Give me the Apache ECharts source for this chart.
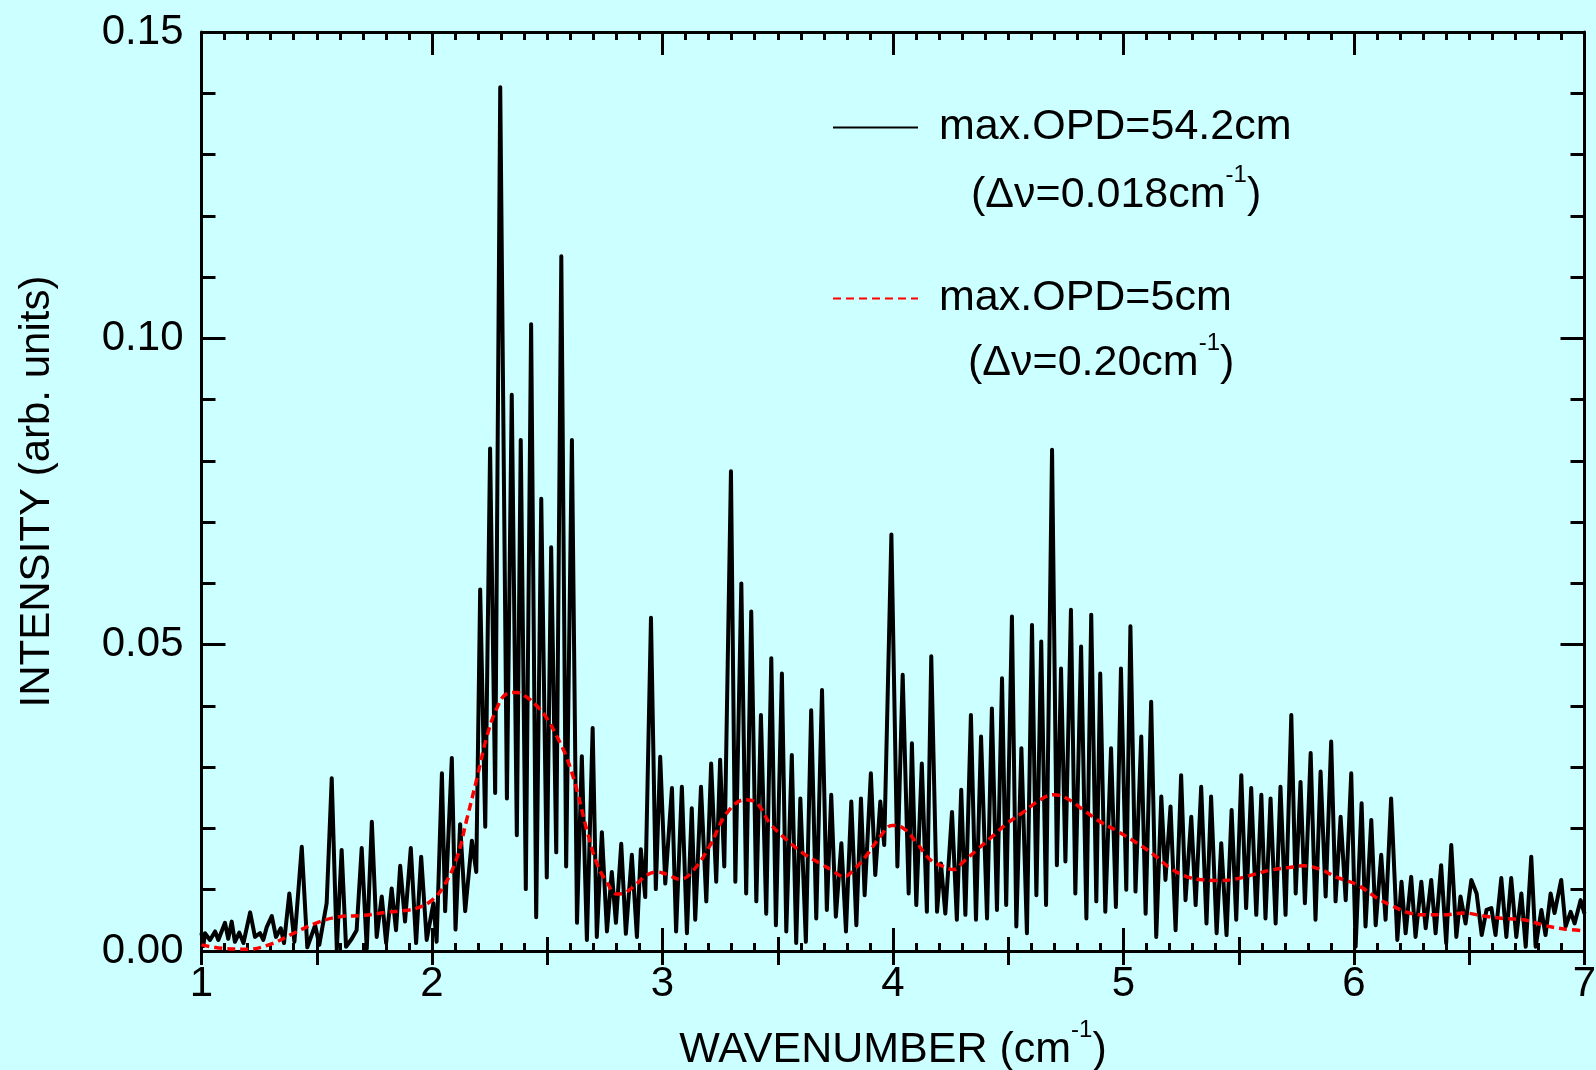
<!DOCTYPE html>
<html>
<head>
<meta charset="utf-8">
<script src="https://cdn.jsdelivr.net/npm/echarts@6/dist/echarts.min.js"></script>
<style>
html,body{margin:0;padding:0;background:#ccffff;}
#chart{width:1596px;height:1070px;}
</style>
</head>
<body>
<div id="chart"></div>
<script>
// ---- data ----
const hiResWavenumber = [
1.000,1.008,1.015,1.037,1.059,1.073,1.102,1.116,1.131,1.145,
1.164,1.182,1.211,1.232,1.254,1.268,1.283,1.305,1.323,1.344,
1.358,1.381,1.403,1.435,1.459,1.493,1.511,1.543,1.565,1.587,
1.608,1.627,1.652,1.673,1.695,1.717,1.739,1.760,1.782,1.801,
1.825,1.844,1.862,1.883,1.908,1.931,1.953,1.977,2.006,2.020,
2.043,2.057,2.086,2.102,2.122,2.144,2.173,2.192,2.209,2.231,
2.252,2.274,2.296,2.325,2.346,2.368,2.385,2.407,2.430,2.452,
2.474,2.498,2.517,2.539,2.561,2.582,2.607,2.629,2.650,2.672,
2.697,2.715,2.737,2.759,2.780,2.798,2.821,2.841,2.867,2.889,
2.906,2.925,2.950,2.971,2.990,3.012,3.041,3.059,3.084,3.106,
3.127,3.142,3.167,3.190,3.211,3.233,3.250,3.268,3.297,3.316,
3.342,3.363,3.385,3.407,3.427,3.450,3.472,3.492,3.518,3.537,
3.561,3.580,3.598,3.622,3.645,3.667,3.692,3.713,3.732,3.752,
3.776,3.796,3.819,3.841,3.861,3.877,3.904,3.923,3.945,3.962,
3.993,4.019,4.042,4.068,4.082,4.101,4.125,4.147,4.166,4.191,
4.208,4.227,4.256,4.277,4.296,4.314,4.338,4.360,4.382,4.408,
4.429,4.451,4.473,4.491,4.516,4.535,4.557,4.581,4.603,4.622,
4.643,4.664,4.690,4.711,4.729,4.748,4.772,4.791,4.816,4.839,
4.860,4.882,4.899,4.921,4.946,4.967,4.989,5.012,5.030,5.052,
5.077,5.096,5.120,5.142,5.164,5.182,5.204,5.226,5.250,5.269,
5.294,5.313,5.337,5.360,5.380,5.404,5.424,5.447,5.469,5.489,
5.511,5.532,5.554,5.576,5.598,5.616,5.638,5.660,5.681,5.703,
5.728,5.747,5.768,5.787,5.812,5.833,5.855,5.877,5.901,5.920,
5.942,5.964,5.988,6.007,6.033,6.050,6.075,6.094,6.118,6.137,
6.161,6.188,6.206,6.224,6.248,6.267,6.292,6.311,6.335,6.354,
6.378,6.400,6.422,6.444,6.462,6.484,6.509,6.532,6.554,6.575,
6.596,6.614,6.639,6.661,6.682,6.704,6.726,6.745,6.769,6.788,
6.813,6.831,6.853,6.870,6.899,6.918,6.940,6.957,6.983,7.000
];
const hiResIntensity = [
.0030,.0008,.0029,.0018,.0032,.0018,.0046,.0020,.0048,.0015,
.0030,.0013,.0063,.0023,.0029,.0018,.0039,.0057,.0023,.0037,
.0013,.0094,.0015,.0170,.0006,.0042,.0010,.0078,.0282,.0002,
.0165,.0007,.0020,.0034,.0168,.0004,.0211,.0023,.0089,.0013,
.0102,.0034,.0139,.0048,.0168,.0013,.0154,.0018,.0078,.0015,
.0290,.0065,.0315,.0035,.0207,.0065,.0180,.0129,.0590,.0203,
.0820,.0258,.1410,.0249,.0908,.0189,.0834,.0101,.1023,.0055,
.0738,.0120,.0659,.0161,.1134,.0138,.0834,.0046,.0318,.0018,
.0364,.0023,.0194,.0032,.0129,.0046,.0175,.0028,.0157,.0023,
.0166,.0088,.0544,.0101,.0317,.0110,.0266,.0032,.0268,.0029,
.0233,.0051,.0268,.0081,.0306,.0113,.0312,.0138,.0783,.0113,
.0600,.0094,.0554,.0081,.0385,.0061,.0478,.0042,.0453,.0032,
.0320,.0013,.0249,.0015,.0393,.0053,.0426,.0067,.0255,.0056,
.0176,.0032,.0244,.0042,.0249,.0091,.0290,.0124,.0244,.0173,
.0680,.0138,.0451,.0094,.0339,.0075,.0306,.0064,.0481,.0064,
.0143,.0061,.0227,.0051,.0263,.0059,.0385,.0051,.0350,.0053,
.0396,.0067,.0445,.0075,.0546,.0040,.0331,.0029,.0532,.0091,
.0505,.0075,.0818,.0140,.0461,.0146,.0557,.0094,.0497,.0053,
.0549,.0081,.0453,.0064,.0331,.0072,.0461,.0100,.0530,.0097,
.0350,.0061,.0407,.0023,.0252,.0116,.0236,.0034,.0287,.0083,
.0219,.0075,.0268,.0045,.0252,.0029,.0176,.0026,.0230,.0051,
.0287,.0070,.0266,.0059,.0255,.0053,.0249,.0045,.0268,.0059,
.0385,.0094,.0276,.0078,.0323,.0051,.0293,.0089,.0342,.0081,
.0219,.0083,.0290,.0007,.0241,.0040,.0214,.0042,.0157,.0051,
.0249,.0018,.0113,.0029,.0121,.0023,.0113,.0037,.0116,.0029,
.0140,.0013,.0173,.0023,.0089,.0045,.0116,.0094,.0026,.0067,
.0070,.0026,.0119,.0023,.0119,.0023,.0094,.0007,.0154,.0007,
.0067,.0026,.0094,.0062,.0116,.0040,.0064,.0045,.0083,.0061
];
const loResWavenumber = [
1.00,1.10,1.20,1.30,1.40,1.50,1.60,1.70,1.80,1.90,
1.95,2.00,2.05,2.108,2.151,2.195,2.238,2.281,2.325,2.368,
2.412,2.455,2.498,2.542,2.585,2.629,2.672,2.715,2.759,2.802,
2.846,2.889,2.932,2.976,3.019,3.077,3.135,3.207,3.279,3.359,
3.410,3.467,3.540,3.612,3.684,3.742,3.786,3.829,3.887,3.945,
3.996,4.046,4.104,4.162,4.219,4.263,4.306,4.364,4.422,4.494,
4.567,4.639,4.697,4.755,4.827,4.899,4.972,5.059,5.132,5.204,
5.276,5.349,5.421,5.493,5.566,5.638,5.710,5.783,5.855,5.927,
6.014,6.101,6.159,6.231,6.303,6.390,6.477,6.564,6.651,6.737,
6.824,6.911,7.000
];
const loResIntensity = [
.0010,.0004,.0003,.0011,.0029,.0046,.0056,.0058,.0063,.0067,
.0072,.0083,.0105,.0152,.0215,.0282,.0350,.0396,.0420,.0422,
.0414,.0400,.0380,.0350,.0315,.0262,.0197,.0143,.0112,.0093,
.0097,.0110,.0124,.0129,.0125,.0117,.0132,.0173,.0225,.0247,
.0241,.0208,.0181,.0159,.0143,.0130,.0121,.0132,.0157,.0187,
.0205,.0200,.0176,.0149,.0138,.0133,.0146,.0165,.0184,.0208,
.0227,.0247,.0255,.0249,.0230,.0211,.0196,.0176,.0157,.0135,
.0121,.0116,.0115,.0118,.0125,.0132,.0136,.0139,.0133,.0120,
.0108,.0086,.0075,.0063,.0059,.0059,.0062,.0057,.0053,.0051,
.0042,.0036,.0033
];
const seriesNames = ['max.OPD=54.2cm', 'max.OPD=5cm'];
const resolutionNotes = ['0.018', '0.20'];
const xRange = [1, 7];
const yRange = [0, 0.15];

// ---- chart ----
const FONT = 'Liberation Sans, Arial, sans-serif';
const BLACK = '#000000';
const chart = echarts.init(document.getElementById('chart'), null, {renderer: 'canvas'});

const hiResData = hiResWavenumber.map((x, i) => [x, hiResIntensity[i]]);
const loResData = loResWavenumber.map((x, i) => [x, loResIntensity[i]]);

function richText(size) {
  return {
    a: {fontSize: size, fontFamily: FONT, fontWeight: 'normal', color: BLACK},
    s: {fontSize: 24, fontFamily: FONT, fontWeight: 'normal', color: BLACK, padding: [0, 0, 40, 0]}
  };
}

function xAxisDef(position, interval, tickLen, opts) {
  return Object.assign({
    type: 'value', position: position, min: xRange[0], max: xRange[1], interval: interval,
    axisLine: {show: false, lineStyle: {color: BLACK, width: 3}},
    axisTick: {show: true, inside: true, length: tickLen, lineStyle: {color: BLACK, width: 3}},
    axisLabel: {show: false},
    splitLine: {show: false}
  }, opts || {});
}

const option = {
  animation: false,
  backgroundColor: '#ccffff',
  grid: {left: 201.5, top: 32, width: 1383, height: 919, outerBoundsMode: 'none', containLabel: false},
  title: resolutionNotes.map((r, i) => ({
    text: '{a|(\u0394\u03bd=' + r + 'cm}{s|-1}{a|)}',
    left: i === 0 ? 971 : 968,
    top: i === 0 ? 163 : 331,
    padding: 0,
    textStyle: {fontWeight: 'normal', fontSize: 43, fontFamily: FONT, color: BLACK, rich: richText(43)}
  })),
  legend: seriesNames.map((n, i) => ({
    data: [n],
    left: 832,
    top: i === 0 ? 106 : 277,
    padding: 0,
    itemWidth: 85,
    itemHeight: 14,
    selectedMode: false,
    itemStyle: {opacity: 0},
    formatter: name => '{n|' + name + '}',
    textStyle: {fontSize: 43, fontFamily: FONT, color: BLACK,
      rich: {n: {fontSize: 43, fontFamily: FONT, color: BLACK, padding: [0, 0, 0, 16]}}}
  })),
  xAxis: [
    xAxisDef('bottom', 1, 23, {
      axisLine: {show: true, onZero: false, lineStyle: {color: BLACK, width: 3}},
      minorTick: {show: true, splitNumber: 10, length: 8, lineStyle: {color: BLACK, width: 3}},
      axisLabel: {show: true, fontSize: 42, fontFamily: FONT, color: BLACK, margin: 12},
      name: '{a|WAVENUMBER (cm}{s|-1}{a|)}',
      nameLocation: 'middle',
      nameGap: 67,
      nameMoveOverlap: false,
      nameTextStyle: {rich: richText(43)}
    }),
    xAxisDef('bottom', 0.5, 14),
    xAxisDef('top', 1, 23, {
      axisLine: {show: true, onZero: false, lineStyle: {color: BLACK, width: 3}},
      minorTick: {show: true, splitNumber: 10, length: 8, lineStyle: {color: BLACK, width: 3}}
    }),
    xAxisDef('top', 0.5, 14)
  ],
  yAxis: [
    {
      type: 'value', position: 'left', min: yRange[0], max: yRange[1], interval: 0.05,
      axisLine: {show: true, onZero: false, lineStyle: {color: BLACK, width: 3}},
      axisTick: {show: true, inside: true, length: 24, lineStyle: {color: BLACK, width: 3}},
      minorTick: {show: true, splitNumber: 5, length: 14, lineStyle: {color: BLACK, width: 3}},
      axisLabel: {show: true, fontSize: 42, fontFamily: FONT, color: BLACK, margin: 18,
        formatter: v => v.toFixed(2)},
      splitLine: {show: false},
      name: 'INTENSITY (arb. units)',
      nameLocation: 'middle',
      nameRotate: 90,
      nameGap: 143,
      nameMoveOverlap: false,
      nameTextStyle: {fontSize: 42, fontFamily: FONT, color: BLACK}
    },
    {
      type: 'value', position: 'right', min: yRange[0], max: yRange[1], interval: 0.05,
      axisLine: {show: true, onZero: false, lineStyle: {color: BLACK, width: 3}},
      axisTick: {show: true, inside: true, length: 24, lineStyle: {color: BLACK, width: 3}},
      minorTick: {show: true, splitNumber: 5, length: 14, lineStyle: {color: BLACK, width: 3}},
      axisLabel: {show: false},
      splitLine: {show: false}
    }
  ],
  series: [
    {
      name: seriesNames[0], type: 'line', data: hiResData,
      xAxisIndex: 0, yAxisIndex: 0,
      symbol: 'none', showSymbol: false,
      lineStyle: {color: BLACK, width: 4, join: 'round'},
      itemStyle: {color: BLACK},
      z: 2
    },
    {
      name: seriesNames[1], type: 'line', data: loResData,
      xAxisIndex: 0, yAxisIndex: 0,
      symbol: 'none', showSymbol: false, smooth: 0.4,
      lineStyle: {color: '#ff0000', width: 3.5, type: [8, 5]},
      itemStyle: {color: '#ff0000'},
      z: 3
    }
  ]
};
chart.setOption(option);
</script>
</body>
</html>
